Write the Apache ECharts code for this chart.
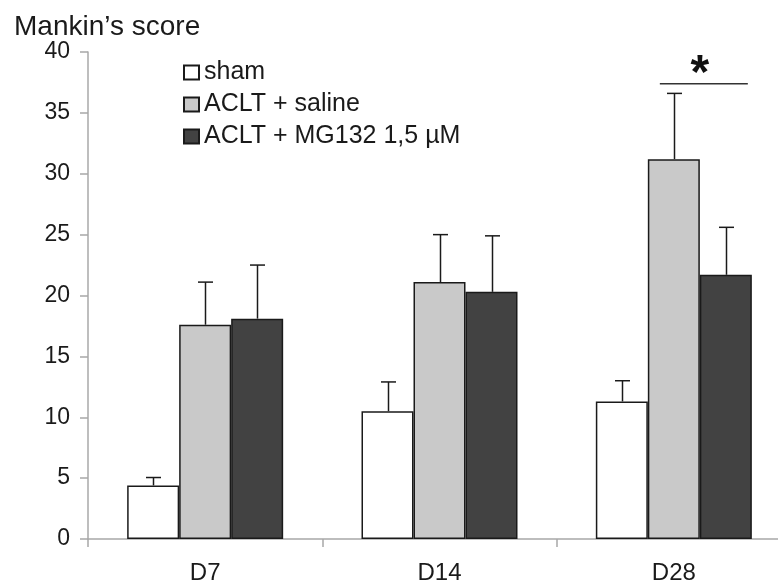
<!DOCTYPE html>
<html>
<head>
<meta charset="utf-8">
<script src="https://cdn.jsdelivr.net/npm/echarts@6/dist/echarts.min.js"></script>
<style>html,body{margin:0;padding:0;background:#fff;overflow:hidden;}#chart{width:791px;height:588px;}</style>
</head>
<body>
<div id="chart"></div>
<script>
const categories = ['D7', 'D14', 'D28'];
const seriesNames = ['sham', 'ACLT + saline', 'ACLT + MG132 1,5 µM'];
const sham = [4.4, 10.5, 11.3];
const shamErr = [0.65, 2.4, 1.7];
const saline = [17.6, 21.1, 31.2];
const salineErr = [3.5, 3.9, 5.4];
const mg132 = [18.1, 20.3, 21.7];
const mg132Err = [4.4, 4.6, 3.9];
const yTicks = [0, 5, 10, 15, 20, 25, 30, 35, 40];
const sigLevel = 37.4;   // y value of significance bar
const sigCategory = 2;   // D28

const FONT = 'Liberation Sans';
const BAR_W = 52;
const colors = ['#ffffff', '#c9c9c9', '#424242'];
const means = [sham, saline, mg132];
const errs = [shamErr, salineErr, mg132Err];
const offsets = [-BAR_W, 0, BAR_W];

const chart = echarts.init(document.getElementById('chart'));

const barSeries = seriesNames.map((name, i) => ({
  name: name,
  type: 'bar',
  data: means[i],
  barWidth: BAR_W,
  barGap: '0%',
  itemStyle: { color: colors[i], borderColor: '#1a1a1a', borderWidth: 1.5 },
  z: 2
}));

const errSeries = seriesNames.map((name, i) => ({
  type: 'custom',
  data: categories.map((c, k) => [k, means[i][k], means[i][k] + errs[i][k]]),
  z: 3,
  silent: true,
  renderItem: function (params, api) {
    const b = api.coord([api.value(0), api.value(1)]);
    const t = api.coord([api.value(0), api.value(2)]);
    const x = Math.round(b[0] + offsets[i]) + 0.5;
    const style = { stroke: '#1a1a1a', lineWidth: 1.5 };
    return {
      type: 'group',
      children: [
        { type: 'line', shape: { x1: x, y1: b[1], x2: x, y2: t[1] }, style: style },
        { type: 'line', shape: { x1: x - 7.5, y1: t[1], x2: x + 7.5, y2: t[1] }, style: style }
      ]
    };
  }
}));

const sigSeries = {
  type: 'custom',
  data: [[sigCategory, sigLevel]],
  z: 4,
  silent: true,
  renderItem: function (params, api) {
    const p = api.coord([api.value(0), api.value(1)]);
    return {
      type: 'group',
      children: [
        { type: 'line', shape: { x1: p[0] - 14, y1: p[1], x2: p[0] + 74, y2: p[1] },
          style: { stroke: '#333', lineWidth: 1.5 } },
        { type: 'text', x: p[0] + 26, y: p[1] - 9,
          style: { text: '*', fontSize: 48, fontWeight: 'bold', fontFamily: FONT,
                   fill: '#111', align: 'center', verticalAlign: 'middle' } }
      ]
    };
  }
};

chart.setOption({
  backgroundColor: '#ffffff',
  animation: false,
  title: {
    text: 'Mankin\u2019s score',
    left: 9, top: 8,
    textStyle: { fontFamily: FONT, fontSize: 28, fontWeight: 'normal', color: '#1a1a1a' }
  },
  legend: {
    orient: 'vertical',
    left: 178, top: 55,
    icon: 'rect',
    itemWidth: 15, itemHeight: 14,
    itemGap: 7,
    data: seriesNames,
    textStyle: { fontFamily: FONT, fontSize: 25, color: '#1a1a1a', lineHeight: 25 }
  },
  grid: { left: 88, right: 0, top: 52, bottom: 49, containLabel: false },
  xAxis: {
    type: 'category',
    data: categories,
    boundaryGap: true,
    axisLine: { lineStyle: { color: '#a8a8a8', width: 1.5 } },
    axisTick: { show: true, interval: 0, length: 8, lineStyle: { color: '#a8a8a8', width: 1.5 } },
    axisLabel: { fontFamily: FONT, fontSize: 24, color: '#1a1a1a', margin: 22, interval: 0 }
  },
  yAxis: {
    type: 'value',
    min: yTicks[0], max: yTicks[yTicks.length - 1], interval: 5,
    splitLine: { show: false },
    axisLine: { show: true, lineStyle: { color: '#a8a8a8', width: 1.5 } },
    axisTick: { show: true, length: 8, lineStyle: { color: '#a8a8a8', width: 1.5 } },
    axisLabel: { fontFamily: FONT, fontSize: 23, color: '#1a1a1a', margin: 18 }
  },
  series: [...barSeries, ...errSeries, sigSeries]
});
</script>
</body>
</html>
